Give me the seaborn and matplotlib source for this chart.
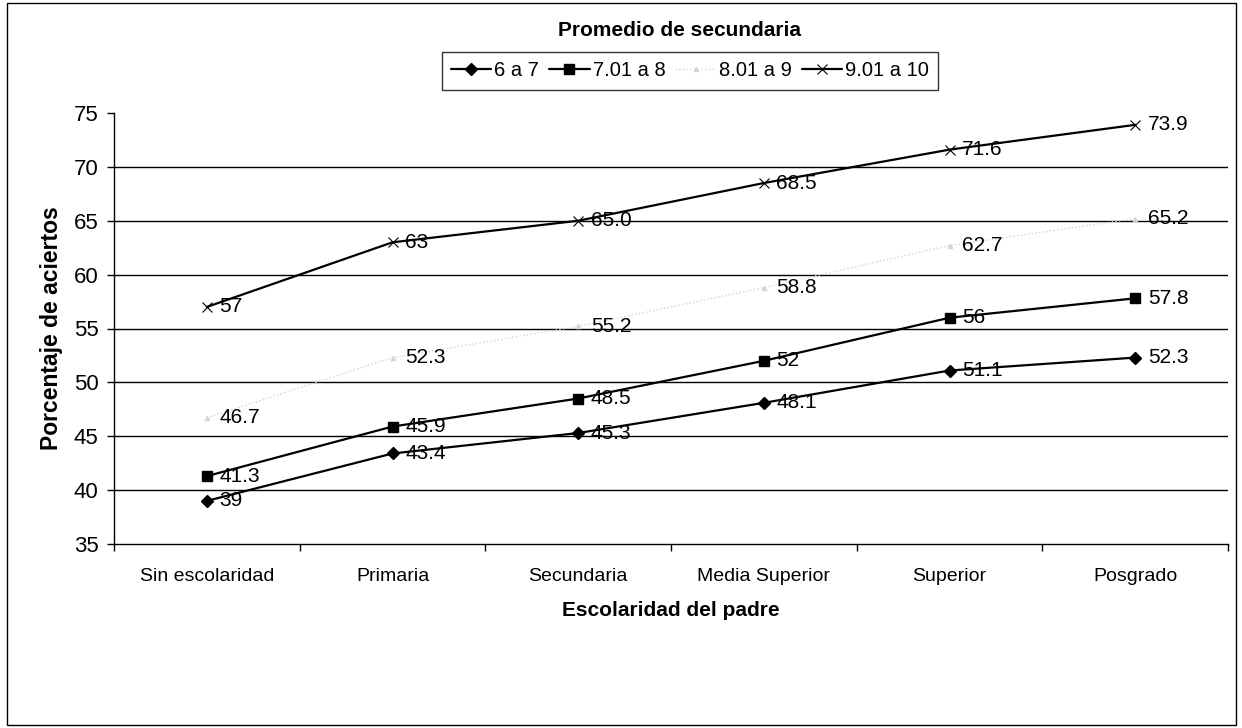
import matplotlib
matplotlib.use("Agg")
import matplotlib.pyplot as plt
from matplotlib.patches import Rectangle
from matplotlib.lines import Line2D
import seaborn as sns
import pandas as pd

# Escolaridad del padre (eje x)
categorias = ["Sin escolaridad", "Primaria", "Secundaria", "Media Superior", "Superior", "Posgrado"]

# Promedio de secundaria: etiquetas tal como se imprimen; los valores salen de ellas
etiquetas_6a7 = ["39", "43.4", "45.3", "48.1", "51.1", "52.3"]
etiquetas_7a8 = ["41.3", "45.9", "48.5", "52", "56", "57.8"]
etiquetas_8a9 = ["46.7", "52.3", "55.2", "58.8", "62.7", "65.2"]
etiquetas_9a10 = ["57", "63", "65.0", "68.5", "71.6", "73.9"]

series = ["6 a 7", "7.01 a 8", "8.01 a 9", "9.01 a 10"]
etiquetas = [etiquetas_6a7, etiquetas_7a8, etiquetas_8a9, etiquetas_9a10]

filas = []
for nombre, etqs in zip(series, etiquetas):
    for cat, e in zip(categorias, etqs):
        filas.append({"Escolaridad": cat, "Serie": nombre, "Valor": float(e), "Etiqueta": e})
df = pd.DataFrame(filas)

sns.set_theme(style="white")
plt.rcParams["font.family"] = ["Liberation Sans", "DejaVu Sans"]
for clave in ["text.color", "axes.labelcolor", "xtick.color", "ytick.color"]:
    plt.rcParams[clave] = "black"

fig = plt.figure(figsize=(12.42, 7.28), dpi=100)
ax = fig.add_axes([114 / 1242, 1 - 544 / 728, (1228 - 114) / 1242, (544 - 113) / 728])

estilos = {
    "6 a 7": dict(color="black", marker="D", markersize=6, linestyle="-", linewidth=1.6),
    "7.01 a 8": dict(color="black", marker="s", markersize=7, linestyle="-", linewidth=1.6),
    "8.01 a 9": dict(color="#d4d4d4", marker="^", markersize=3, linestyle=":", linewidth=1.0),
    "9.01 a 10": dict(color="black", marker="x", markersize=7, linestyle="-", linewidth=1.6,
                      markeredgewidth=0.8),
}

# El gráfico de líneas de cada grupo de promedio
for nombre in series:
    sub = df[df["Serie"] == nombre]
    st = estilos[nombre]
    sns.lineplot(data=sub, x="Escolaridad", y="Valor", ax=ax, sort=False,
                 color=st["color"], marker=st["marker"], markersize=st["markersize"],
                 linestyle=st["linestyle"], linewidth=st["linewidth"],
                 markeredgecolor=st["color"], markeredgewidth=st.get("markeredgewidth", 1.0),
                 legend=False, zorder=3)
    # etiquetas de datos a la derecha de cada punto
    for i, (v, e) in enumerate(zip(sub["Valor"], sub["Etiqueta"])):
        ax.annotate(e, (i, v), xytext=(9, 0), textcoords="offset points",
                    ha="left", va="center", fontsize=15, color="black", zorder=4)

ax.set_xlim(-0.5, len(categorias) - 0.5)
ax.set_ylim(35, 75)
ax.set_yticks(range(35, 80, 5))
ax.tick_params(axis="y", labelsize=16, length=5, width=1, color="black", direction="out", pad=6, left=True)

# categorías centradas, marcas de división entre ellas
ax.set_xticks(range(len(categorias)))
ax.set_xticklabels(categorias, fontsize=14)
ax.tick_params(axis="x", which="major", length=0, pad=17)
ax.set_xticks([i - 0.5 for i in range(len(categorias) + 1)], minor=True)
ax.tick_params(axis="x", which="minor", length=5, width=1, color="black", direction="out", bottom=True)

for y in range(40, 75, 5):
    ax.axhline(y, color="black", linewidth=1.0, zorder=1)

for lado in ["top", "right"]:
    ax.spines[lado].set_visible(False)
for lado in ["left", "bottom"]:
    ax.spines[lado].set_color("black")
    ax.spines[lado].set_linewidth(1.0)

ax.set_xlabel("Escolaridad del padre", fontsize=15, fontweight="bold", labelpad=12)
ax.set_ylabel("Porcentaje de aciertos", fontsize=16.5, fontweight="bold", labelpad=8)
ax.grid(False)

fig.text(680 / 1242, 1 - 31 / 728, "Promedio de secundaria", ha="center", va="center",
         fontsize=15, fontweight="bold")

manejadores = []
for nombre in series:
    st = estilos[nombre]
    manejadores.append(Line2D([], [], color=st["color"], marker=st["marker"],
                              markersize=st["markersize"], linestyle=st["linestyle"],
                              linewidth=st["linewidth"],
                              markeredgewidth=st.get("markeredgewidth", 1.0)))
leg = fig.legend(manejadores, series, loc="center", bbox_to_anchor=(690 / 1242, 1 - 71 / 728),
                 ncol=4, fontsize=14.5, frameon=True, fancybox=False, edgecolor="black",
                 handlelength=2.0, handletextpad=0.15, columnspacing=0.5, borderpad=0.45,
                 borderaxespad=0)
leg.get_frame().set_linewidth(1.0)

# marco exterior del gráfico
fig.patches.append(Rectangle((7 / 1242, 3 / 728), (1236 - 7) / 1242, (725 - 3) / 728,
                             transform=fig.transFigure, fill=False, edgecolor="black",
                             linewidth=1.0))

fig.savefig("out.png", dpi=100, facecolor="white")
